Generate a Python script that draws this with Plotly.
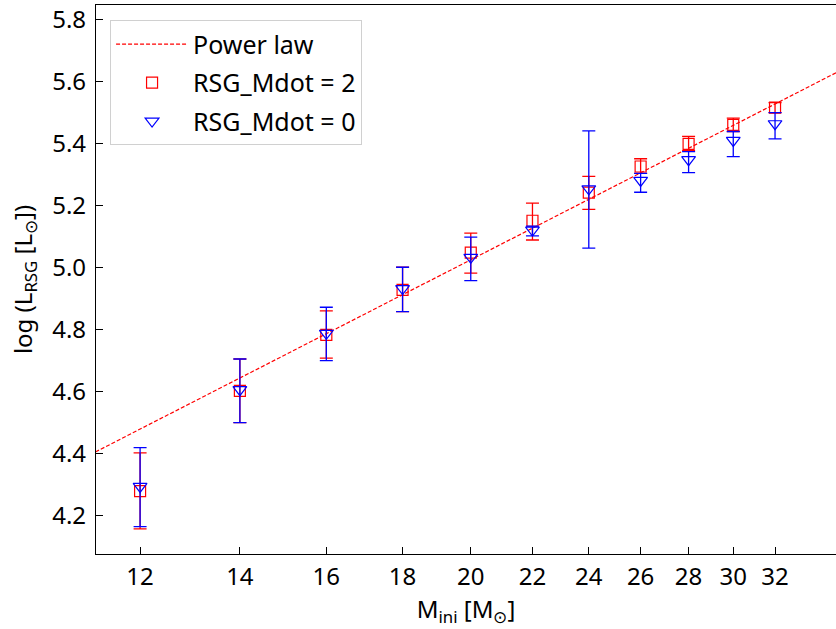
import plotly.graph_objects as go
import numpy as np

# Data
mass = [12, 14, 16, 18, 20, 22, 24, 26, 28, 30, 32]
tick_vals = [12, 14, 16, 18, 20, 22, 24, 26, 28, 30, 32]
y_ticks = [4.2, 4.4, 4.6, 4.8, 5.0, 5.2, 5.4, 5.6, 5.8]

# RSG_Mdot = 2 (red squares)
logL_m2 = [4.28, 4.603, 4.784, 4.929, 5.049, 5.152, 5.243, 5.327, 5.400, 5.461, 5.517]
logL_m2_hi = [4.403, 4.706, 4.861, 5.002, 5.112, 5.209, 5.295, 5.352, 5.424, 5.483, 5.533]
logL_m2_lo = [4.158, 4.501, 4.709, 4.859, 4.983, 5.090, 5.189, 5.305, 5.378, 5.440, 5.501]

# RSG_Mdot = 0 (blue triangles)
logL_m0 = [4.295, 4.607, 4.789, 4.933, 5.034, 5.122, 5.255, 5.282, 5.349, 5.411, 5.465]
logL_m0_hi = [4.420, 4.706, 4.873, 5.002, 5.099, 5.135, 5.442, 5.305, 5.375, 5.440, 5.501]
logL_m0_lo = [4.165, 4.501, 4.701, 4.859, 4.959, 5.103, 5.064, 5.244, 5.307, 5.359, 5.416]

# Power law: log L = A + B * log10(M)
PL_A = 1.823
PL_B = 2.462
pl_mass = [11.2, 35.2]

x_range = [np.log10(11.21), np.log10(35.16)]
y_range = [4.077, 5.848]

pl_logL = [PL_A + PL_B * np.log10(m) for m in pl_mass]

def err(v, hi, lo):
    return [h - x for x, h in zip(v, hi)], [x - l for x, l in zip(v, lo)]

m2_up, m2_dn = err(logL_m2, logL_m2_hi, logL_m2_lo)
m0_up, m0_dn = err(logL_m0, logL_m0_hi, logL_m0_lo)

RED = "#ff0000"
BLUE = "#0000ff"

fig = go.Figure()
fig.add_trace(go.Scatter(
    x=pl_mass, y=pl_logL, mode="lines", name="Power law",
    line=dict(color=RED, width=1.2, dash="4px,2px"),
    legendgroup="a",
))
fig.add_trace(go.Scatter(
    x=mass, y=logL_m2, mode="markers", name="RSG_Mdot = 2",
    marker=dict(symbol="square-open", size=11, color=RED, line=dict(width=1.2)),
    error_y=dict(type="data", symmetric=False, array=m2_up, arrayminus=m2_dn,
                 color=RED, thickness=1.3, width=6.5),
    legendgroup="b",
))
fig.add_trace(go.Scatter(
    x=mass, y=logL_m0, mode="markers", name="RSG_Mdot = 0",
    marker=dict(symbol="triangle-down-open", size=12, color=BLUE, line=dict(width=1.2)),
    error_y=dict(type="data", symmetric=False, array=m0_up, arrayminus=m0_dn,
                 color=BLUE, thickness=1.3, width=6.5),
    legendgroup="c",
))

FONT = "Noto Sans"
FS = 24
fig.update_layout(
    width=836, height=629,
    margin=dict(l=96, r=0, t=5, b=75, autoexpand=False),
    paper_bgcolor="white", plot_bgcolor="white",
    font=dict(family=FONT, size=FS, color="black"),
    showlegend=True,
    legend=dict(
        x=0.019, y=0.972, xanchor="left", yanchor="top",
        bgcolor="white", bordercolor="#d0d0d0", borderwidth=1,
        font=dict(size=25), tracegroupgap=3, itemwidth=72,
    ),
    xaxis=dict(
        type="log", range=x_range, automargin=False,
        tickvals=tick_vals, ticktext=[str(t) for t in tick_vals],
        ticks="inside", ticklen=7, tickwidth=1, tickcolor="black",
        showline=True, linecolor="black", linewidth=1.2, mirror=True,
        showgrid=False, zeroline=False, ticklabelstandoff=1,
        title=dict(text="M<sub>ini</sub> [M<sub>⊙</sub>]", standoff=0, font=dict(size=FS)),
        tickfont=dict(size=FS),
    ),
    yaxis=dict(
        range=y_range, automargin=False,
        tickvals=y_ticks,
        tickformat=".1f",
        ticks="inside", ticklen=7, tickwidth=1, tickcolor="black",
        showline=True, linecolor="black", linewidth=1.2, mirror=True,
        showgrid=False, zeroline=False, ticklabelstandoff=4,
        title=dict(text="log (L<sub>RSG</sub> [L<sub>⊙</sub>])", standoff=12, font=dict(size=FS)),
        tickfont=dict(size=FS),
    ),
)

fig.write_html("out.html", config={"displayModeBar": False},
               post_script="document.body.style.margin='0';document.body.style.padding='0';")
